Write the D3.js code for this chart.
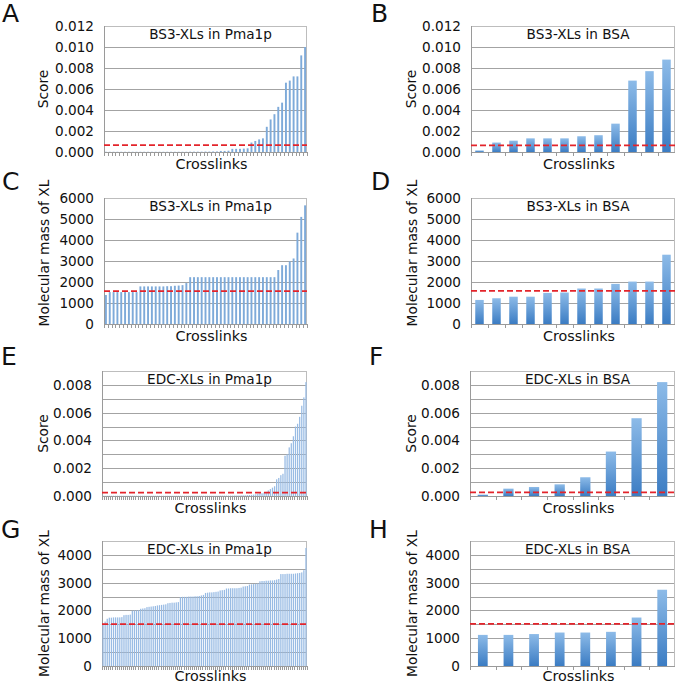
<!DOCTYPE html>
<html><head><meta charset="utf-8">
<script src="https://cdn.jsdelivr.net/npm/d3@7"></script>
<style>
html,body{margin:0;padding:0;background:#fff;}
svg{display:block;}
text{font-family:"DejaVu Sans",Verdana,sans-serif;fill:#111;}
</style></head>
<body>
<svg id="chart" width="675" height="684"></svg>
<script>
// ---------- DATA ----------
const panelLetters = ["A","B","C","D","E","F","G","H"];
const panelTitles = ["BS3-XLs in Pma1p","BS3-XLs in BSA","BS3-XLs in Pma1p","BS3-XLs in BSA",
                     "EDC-XLs in Pma1p","EDC-XLs in BSA","EDC-XLs in Pma1p","EDC-XLs in BSA"];
const yLabels = ["Score","Score","Molecular mass of XL","Molecular mass of XL",
                 "Score","Score","Molecular mass of XL","Molecular mass of XL"];
const xLabel = "Crosslinks";

// A: score of BS3 crosslinks in Pma1p (sorted)
const scoreBS3Pma1p = [
 0.00002,0.00002,0.00002,0.00002,0.00002,0.00002,0.00002,0.00002,0.00002,0.00002,
 0.00002,0.00002,0.00002,0.00002,0.00002,0.00002,0.00002,0.00002,0.00002,0.00002,
 0.00002,0.00002,0.00003,0.00003,0.00003,0.00003,0.00004,0.00004,0.00005,0.00005,
 0.0001,0.0001,0.00012,0.0003,0.0003,0.0003,0.00032,0.00035,
 0.0009,0.00105,0.0012,0.0013,0.0024,0.0031,0.0036,0.0043,0.0047,
 0.0066,0.0068,0.0072,0.0072,0.0092,0.0100];
// B: score of BS3 crosslinks in BSA
const scoreBS3BSA = [0.00015,0.0009,0.00108,0.0013,0.0013,0.0013,0.0015,0.0016,0.0027,0.0068,0.0077,0.0088];
// C: molecular mass of BS3 crosslinks in Pma1p
const massBS3Pma1p = [
 1380,1520,1520,1520,1520,1520,1520,1520,1520,
 1790,1790,1790,1790,1790,1790,1790,1800,1800,1820,1830,1850,
 1950,
 2230,2230,2230,2230,2230,2230,2230,2230,2230,2230,2230,2230,2230,2230,2230,2230,2230,2230,2230,2230,2230,2230,2230,
 2570,2800,2800,2980,3120,4350,5100,5650];
// D: molecular mass of BS3 crosslinks in BSA
const massBS3BSA = [1146,1226,1300,1300,1480,1500,1690,1690,1910,2020,2020,3300];
// E: score of EDC crosslinks in Pma1p
const scoreEDCPma1p = [
 0.00002,0.00002,0.00002,0.00002,0.00002,0.00002,0.00002,0.00002,0.00002,0.00002,
 0.00002,0.00002,0.00002,0.00002,0.00002,0.00002,0.00002,0.00002,0.00002,0.00002,
 0.00002,0.00002,0.00002,0.00002,0.00002,0.00002,0.00002,0.00002,0.00002,0.00002,
 0.00002,0.00002,0.00002,0.00002,0.00002,0.00002,0.00002,0.00002,0.00002,0.00002,
 0.00002,0.00002,0.00002,0.00002,0.00002,0.00002,0.00002,0.00002,0.00002,0.00002,
 0.00002,0.00002,0.00002,0.00002,0.00002,0.00002,0.00003,0.00003,0.00003,0.00003,
 0.00003,0.00003,0.00003,0.00004,0.00004,0.00004,0.00005,0.00005,0.00005,0.00006,
 0.00007,0.00008,0.0001,0.00012,0.00015,0.0002,0.0002,0.00025,0.0003,0.0004,
 0.0005,0.0006,0.0007,0.0012,0.0013,0.0015,0.0016,0.0029,0.0030,0.0035,
 0.0038,0.0043,0.0050,0.0052,0.0057,0.0065,0.0071,0.0082];
// F: score of EDC crosslinks in BSA
const scoreEDCBSA = [0.0001,0.00053,0.00065,0.00084,0.00135,0.0032,0.0056,0.0082];
// G: molecular mass of EDC crosslinks in Pma1p
const massEDCPma1p = [
 1520,1600,1700,1740,1740,1750,1750,1750,1750,1760,
 1830,1840,1840,1850,1990,2000,2000,2010,2060,2070,
 2080,2120,2130,2140,2150,2160,2180,2190,2200,2210,
 2220,2260,2270,2280,2280,2290,2300,2480,2490,2490,
 2490,2500,2500,2500,2510,2510,2520,2540,2560,2630,
 2640,2650,2650,2660,2670,2680,2720,2730,2740,2790,
 2790,2800,2800,2800,2800,2810,2820,2860,2870,2880,
 2930,2940,2950,2960,2970,3050,3060,3060,3070,3070,
 3080,3080,3090,3110,3130,3310,3310,3310,3320,3320,
 3320,3320,3330,3340,3350,3370,3450,4250];
// H: molecular mass of EDC crosslinks in BSA
const massEDCBSA = [1120,1120,1150,1205,1205,1230,1745,2745];

// axis settings (value ranges and tick labels)
const yMaxes   = [0.012,0.012,6000,6000,0.009,0.009,4500,4500];
const gridSteps= [0.002,0.002,1000,1000,0.001,0.001,500,500];
const tickLabelsScore12 = [0.000,0.002,0.004,0.006,0.008,0.010,0.012];
const tickLabelsMass6000 = [0,1000,2000,3000,4000,5000,6000];
const tickLabelsScore8 = [0.000,0.002,0.004,0.006,0.008];
const tickLabelsMass4000 = [0,1000,2000,3000,4000];
// red dashed cut-off lines
const thresholds = [0.00065,0.00064,1570,1575,0.00025,0.00026,1505,1515];

// ---------- LAYOUT ----------
const W = 675, H = 684;
const svg = d3.select("#chart");
svg.append("rect").attr("width",W).attr("height",H).attr("fill","#fff");

const defs = svg.append("defs");
const grad = defs.append("linearGradient").attr("id","barGrad")
  .attr("x1",0).attr("y1",0).attr("x2",0).attr("y2",1);
grad.append("stop").attr("offset","0%").attr("stop-color","#8dbbe8");
grad.append("stop").attr("offset","100%").attr("stop-color","#3b7cc3");

const datasets = [scoreBS3Pma1p,scoreBS3BSA,massBS3Pma1p,massBS3BSA,scoreEDCPma1p,scoreEDCBSA,massEDCPma1p,massEDCBSA];
const tickSets = [tickLabelsScore12,tickLabelsScore12,tickLabelsMass6000,tickLabelsMass6000,
                  tickLabelsScore8,tickLabelsScore8,tickLabelsMass4000,tickLabelsMass4000];
const isScore = [true,true,false,false,true,true,false,false];

const rects = [
  {x0:104,x1:307,y0:26,y1:152},
  {x0:471,x1:675,y0:26,y1:152},
  {x0:104,x1:307,y0:198,y1:324},
  {x0:471,x1:675,y0:198,y1:324},
  {x0:102,x1:307,y0:371,y1:496},
  {x0:470,x1:675,y0:371,y1:496},
  {x0:102,x1:307,y0:541,y1:666},
  {x0:470,x1:675,y0:541,y1:666}
];
const letterPos = [[2,22],[371,22],[2,190],[371,190],[1,365],[369,365],[1,538],[369,538]];
const yLabelX = [43,411,44,412,43,411,44,412];
const yLabelDy = [0,0,-8,-8,0,0,0,0];
const xLabelDy = [17,17,17,17,17,17,15,15];
const barPad = [0.5,0.5,0.5,0.5,0.4,0.6,0.4,0.62];
const thinColor = ["#7eaad9",null,"#7eaad9",null,"#98bbe4",null,"#98bbe4",null];

panelLetters.forEach((letter,i)=>{
  const r = rects[i];
  const data = datasets[i];
  const g = svg.append("g");
  const x = d3.scaleBand().domain(d3.range(data.length)).range([r.x0,r.x1])
              .paddingInner(barPad[i]).paddingOuter(barPad[i]/2);
  const y = d3.scaleLinear().domain([0,yMaxes[i]]).range([r.y1,r.y0]);

  // gridlines
  const nGrid = Math.round(yMaxes[i]/gridSteps[i]);
  const gridVals = d3.range(nGrid+1).map(k=>k*gridSteps[i]);
  g.selectAll("line.grid").data(gridVals).enter().append("line")
    .attr("x1",r.x0).attr("x2",r.x1)
    .attr("y1",d=>Math.round(y(d))+0.5).attr("y2",d=>Math.round(y(d))+0.5)
    .attr("stroke","#a3a3a3").attr("stroke-width",1);
  // plot border
  g.append("rect").attr("x",r.x0+0.5).attr("y",Math.round(r.y0)+0.5)
    .attr("width",r.x1-r.x0-1).attr("height",r.y1-r.y0)
    .attr("fill","none").attr("stroke","#bdbdbd");
  // left axis line
  g.append("line").attr("x1",r.x0+0.5).attr("x2",r.x0+0.5).attr("y1",r.y0).attr("y2",r.y1)
    .attr("stroke","#9a9a9a");

  // bars
  g.selectAll("rect.bar").data(data).enter().append("rect")
    .attr("x",(d,k)=>x(k)).attr("width",x.bandwidth())
    .attr("y",d=>y(d)).attr("height",d=>Math.max(0,y(0)-y(d)))
    .attr("fill", thinColor[i] ? thinColor[i] : "url(#barGrad)");

  // bottom axis line and category ticks
  const step = x.step();
  const x0b = x(0) - x.paddingOuter()*step;
  g.append("line").attr("x1",r.x0).attr("x2",r.x1)
    .attr("y1",Math.round(r.y1)+0.5).attr("y2",Math.round(r.y1)+0.5).attr("stroke","#9a9a9a");
  g.selectAll("line.xt").data(d3.range(data.length+1)).enter().append("line")
    .attr("x1",k=>Math.round(x0b+k*step)+0.5).attr("x2",k=>Math.round(x0b+k*step)+0.5)
    .attr("y1",Math.round(r.y1)).attr("y2",Math.round(r.y1)+4)
    .attr("stroke","#9a9a9a");

  // red dashed threshold
  g.append("line").attr("x1",r.x0).attr("x2",r.x1)
    .attr("y1",y(thresholds[i])).attr("y2",y(thresholds[i]))
    .attr("stroke","#e3242b").attr("stroke-width",1.8).attr("stroke-dasharray","6,3");

  // y tick labels
  const fmt = isScore[i] ? d3.format(".3f") : d3.format("d");
  g.selectAll("text.yt").data(tickSets[i]).enter().append("text")
    .attr("x",r.x0-10).attr("y",d=>y(d)).attr("dy","0.36em")
    .attr("text-anchor","end").style("font-size","13.6px").text(d=>fmt(d));

  // title
  g.append("text").attr("x",(r.x0+r.x1)/2+5).attr("y",r.y0+13)
    .attr("text-anchor","middle").style("font-size","13.6px").text(panelTitles[i]);
  // x label
  g.append("text").attr("x",(r.x0+r.x1)/2+6).attr("y",r.y1+xLabelDy[i])
    .attr("text-anchor","middle").style("font-size","14.3px").text(xLabel);
  // y label
  const cy = (r.y0+r.y1)/2 + yLabelDy[i];
  g.append("text").attr("transform",`translate(${yLabelX[i]+5},${cy}) rotate(-90)`)
    .attr("text-anchor","middle").style("font-size","13.8px").text(yLabels[i]);
  // panel letter
  g.append("text").attr("x",letterPos[i][0]).attr("y",letterPos[i][1])
    .style("font-size","25px").text(letter);
});
</script>
</body></html>
